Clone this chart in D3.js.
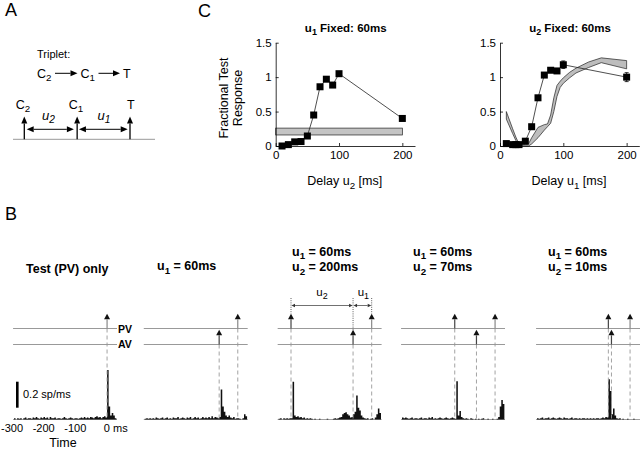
<!DOCTYPE html>
<html>
<head>
<meta charset="utf-8">
<script src="https://cdn.jsdelivr.net/npm/d3@7"></script>
<style>
body { margin: 0; background: #fff; }
text { font-family: "Liberation Sans", Arial, sans-serif; fill: #000; }
</style>
</head>
<body>
<div id="chart"></div>
<script>
// ----------------------------------------------------------------
// Data
// ----------------------------------------------------------------

// panel C, left: u1 fixed at 60ms, u2 varied
const delayU2 = [10, 20, 30, 40, 50, 60, 70, 80, 90, 100, 200];
const respFixedU1 = [0.0, 0.02, 0.06, 0.065, 0.145, 0.45, 0.86, 0.97, 0.885, 1.05, 0.40];
const testOnlyBand = [0.16, 0.26];

// panel C, right: u2 fixed at 60ms, u1 varied
const delayU1 = [10, 20, 25, 30, 40, 50, 60, 70, 80, 90, 100, 200];
const respFixedU2 = [0.035, 0.02, 0.02, 0.02, 0.07, 0.28, 0.70, 1.03, 1.10, 1.09, 1.18, 1.00];
const errFixedU2 = [0, 0, 0, 0, 0, 0, 0, 0, 0, 0, 0.055, 0.065];

// pair (C1 -> T) band on the right plot
const bandU1 = [10, 20, 25, 30, 40, 45, 50, 60, 70, 75, 80, 85, 90, 95, 100, 110, 120, 140, 160, 200];
const bandLo = [0.39, 0.18, 0.08, 0.01, 0.0, 0.0, 0.03, 0.12, 0.23, 0.28, 0.33, 0.50, 0.72, 0.85, 0.91, 0.99, 1.06, 1.14, 1.21, 1.12];
const bandHi = [0.50, 0.25, 0.13, 0.03, 0.02, 0.03, 0.12, 0.27, 0.31, 0.32, 0.45, 0.70, 0.88, 0.94, 0.99, 1.07, 1.13, 1.22, 1.28, 1.24];

// panel B: trial conditions
const trialTitles = ["Test (PV) only", "u_1 = 60ms", "u_1 = 60ms|u_2 = 200ms", "u_1 = 60ms|u_2 = 70ms", "u_1 = 60ms|u_2 = 10ms"];
const pvTimes = [[0], [0], [-260, 0], [-130, 0], [-70, 0]];
const avTimes = [[], [-60], [-60], [-60], [-60]];
const timeTicks = [-300, -200, -100, 0];

// PSTHs, 5 ms bins starting at -300 ms (sp/ms)
const psthTestOnly = [0.01, 0, 0.01, 0.005, 0.01, 0, 0.01, 0.015, 0.005, 0.01,
  0.01, 0.005, 0.015, 0.01, 0.02, 0.01, 0.005, 0.015, 0.01, 0.02,
  0.01, 0.015, 0.005, 0.02, 0.01, 0.01, 0.015, 0.005, 0.01, 0.01,
  0.005, 0.01, 0.02, 0.01, 0.005, 0.01, 0.015, 0.01, 0.005, 0.01,
  0.01, 0.005, 0.01, 0.015, 0.01, 0.02, 0.01, 0.015, 0.01, 0.02,
  0.015, 0.01, 0.02, 0.025, 0.015, 0.02, 0.01, 0.02, 0.025, 0.015,
  0.38, 0.1, 0.03, 0.05, 0.03, 0.01];
const psthU1 = [0.005, 0.01, 0.005, 0.01, 0.005, 0.01, 0.005, 0.015, 0.01, 0.005,
  0.01, 0.015, 0.005, 0.01, 0.015, 0.005, 0.01, 0.005, 0.015, 0.01,
  0.01, 0.02, 0.005, 0.01, 0.015, 0.01, 0.005, 0.015, 0.01, 0.02,
  0.005, 0.01, 0.02, 0.01, 0.015, 0.005, 0.01, 0.02, 0.01, 0.015,
  0.01, 0.02, 0.01, 0.025, 0.01, 0.02, 0.015, 0.01, 0.02, 0.23,
  0.1, 0.06, 0.03, 0.02, 0.03, 0.015, 0.01, 0.02, 0.005, 0.01,
  0.01, 0.005, 0, 0.01, 0.04, 0.025];
const psthU2_200 = [0.005, 0.01, 0, 0.01, 0.005, 0.01, 0.005, 0.01, 0.01, 0.29,
  0.03, 0.02, 0.025, 0.015, 0.02, 0.01, 0.015, 0.005, 0.01, 0.005,
  0.01, 0.005, 0, 0.005, 0, 0, 0.005, 0, 0, 0,
  0, 0.005, 0, 0, 0, 0.005, 0.01, 0.005, 0.01, 0.015,
  0.02, 0.04, 0.05, 0.055, 0.04, 0.03, 0.015, 0.02, 0.04, 0.06,
  0.185, 0.09, 0.07, 0.03, 0.015, 0.01, 0.005, 0.01, 0, 0.005,
  0.01, 0, 0.015, 0.04, 0.085, 0.05];
const psthU2_70 = [0.015, 0.01, 0.015, 0.01, 0.005, 0.01, 0.015, 0.005, 0.01, 0.01,
  0.005, 0.01, 0.015, 0.005, 0.01, 0.01, 0.005, 0.015, 0.01, 0.02,
  0.005, 0.01, 0.005, 0.01, 0.015, 0.01, 0.005, 0.01, 0.015, 0.01,
  0.005, 0.01, 0.015, 0.01, 0.005, 0.295, 0.03, 0.065, 0.02, 0.01,
  0.005, 0.01, 0.005, 0, 0.01, 0.005, 0, 0.005, 0, 0.005,
  0, 0.005, 0.01, 0, 0, 0.005, 0, 0, 0.005, 0,
  0, 0.005, 0.02, 0.1, 0.15, 0.12];
const psthU2_10 = [0.01, 0.005, 0.01, 0.015, 0.005, 0.01, 0.01, 0.015, 0.005, 0.01,
  0.015, 0.01, 0.005, 0.01, 0.015, 0.01, 0.005, 0.015, 0.01, 0.01,
  0.005, 0.01, 0.015, 0.005, 0.01, 0.01, 0.005, 0.01, 0.005, 0.01,
  0.01, 0.005, 0.01, 0.005, 0.01, 0.005, 0.01, 0.005, 0.01, 0.01,
  0.005, 0.01, 0.015, 0.01, 0.02, 0.015, 0.31, 0.22, 0.04, 0.085,
  0.03, 0.01, 0.005, 0.01, 0, 0.005, 0, 0, 0.005, 0,
  0, 0, 0.005, 0, 0, 0];
const psths = [psthTestOnly, psthU1, psthU2_200, psthU2_70, psthU2_10];
const binStart = -300, binWidth = 5;

// ----------------------------------------------------------------
// Helpers
// ----------------------------------------------------------------

const svg = d3.select("#chart").append("svg")
  .attr("width", 640)
  .attr("height", 450);

// text with "_x" subscripts
function richText(g, x, y, str, size, weight) {
  const t = g.append("text")
    .attr("x", x).attr("y", y)
    .style("font-size", size + "px")
    .style("font-weight", weight || "normal");
  let shifted = false;
  str.split(/(_\w)/).filter(s => s.length).forEach(p => {
    if (p[0] === "_") {
      t.append("tspan").attr("dy", size * 0.3).style("font-size", (size * 0.78) + "px").text(p[1]);
      shifted = true;
    } else {
      t.append("tspan").attr("dy", shifted ? -size * 0.3 : 0).text(p);
      shifted = false;
    }
  });
  return t;
}

function arrowHead(g, x2, y2, ang, len, wid, col) {
  const bx = x2 - len * Math.cos(ang), by = y2 - len * Math.sin(ang);
  const px = -Math.sin(ang) * wid / 2, py = Math.cos(ang) * wid / 2;
  g.append("path")
    .attr("d", `M${x2},${y2}L${bx + px},${by + py}L${bx - px},${by - py}Z`)
    .attr("fill", col);
  return [bx, by];
}

function arrow(g, x1, y1, x2, y2, o) {
  o = Object.assign({ len: 5, wid: 5, stem: "#000", head: "#000", sw: 1 }, o);
  const a = Math.atan2(y2 - y1, x2 - x1);
  const b = arrowHead(g, x2, y2, a, o.len, o.wid, o.head);
  g.append("line")
    .attr("x1", x1).attr("y1", y1).attr("x2", b[0]).attr("y2", b[1])
    .attr("stroke", o.stem).attr("stroke-width", o.sw);
}

function dblArrow(g, xa, xb, y, o) {
  o = Object.assign({ len: 5, wid: 5, col: "#000", sw: 1 }, o);
  const a = arrowHead(g, xa, y, Math.PI, o.len, o.wid, o.col);
  const b = arrowHead(g, xb, y, 0, o.len, o.wid, o.col);
  g.append("line").attr("x1", a[0]).attr("x2", b[0]).attr("y1", y).attr("y2", y)
    .attr("stroke", o.col).attr("stroke-width", o.sw);
}

// ----------------------------------------------------------------
// Panel A: schematic
// ----------------------------------------------------------------

function drawPanelA() {
  const g = svg.append("g");
  g.append("text").attr("x", 5).attr("y", 16).style("font-size", "18px").text("A");
  g.append("text").attr("x", 37).attr("y", 57.5).style("font-size", "11px").text("Triplet:");

  // C2 -> C1 -> T
  richText(g, 37, 77.5, "C_2", 12.5);
  arrow(g, 55, 73.3, 77.5, 73.3, { len: 7, wid: 6 });
  richText(g, 80.5, 77.5, "C_1", 12.5);
  arrow(g, 98.5, 73.3, 120, 73.3, { len: 7, wid: 6 });
  g.append("text").attr("x", 123).attr("y", 77.5).style("font-size", "12.5px").text("T");

  // time line
  const ev = d3.scalePoint().domain(["C_2", "C_1", "T"]).range([24.3, 130]);
  g.append("line").attr("x1", 13).attr("x2", 155).attr("y1", 139.3).attr("y2", 139.3)
    .attr("stroke", "#999").attr("stroke-width", 1);
  ev.domain().forEach(k => {
    arrow(g, ev(k), 139.3, ev(k), 116.5, { len: 7, wid: 6, sw: 1.3 });
    richText(g, k === "T" ? ev(k) - 3 : ev(k) - 8.5, 108.5, k, 12.5);
  });
  dblArrow(g, ev("C_2") + 2.4, ev("C_1") - 3.3, 129.3, { len: 7, wid: 6 });
  dblArrow(g, ev("C_1") + 1.8, ev("T") - 2.3, 129.3, { len: 7, wid: 6 });
  richText(g, 42, 119.5, "u_2", 13).style("font-style", "italic");
  richText(g, 97.5, 119.5, "u_1", 13).style("font-style", "italic");
}

// ----------------------------------------------------------------
// Panel C: fractional test response
// ----------------------------------------------------------------

function drawCurve(x0, title, xlabel, delays, resp, err, drawBand) {
  const g = svg.append("g");
  const x = d3.scaleLinear().domain([0, 220]).range([x0, x0 + 139.3]);
  const y = d3.scaleLinear().domain([0, 1.5]).range([146, 42.7]);

  drawBand(g, x, y);

  const xAxis = g.append("g").attr("transform", "translate(0,146)")
    .call(d3.axisBottom(x).tickValues([0, 100, 200]).tickSizeInner(-3).tickSizeOuter(0).tickPadding(5));
  const yAxis = g.append("g").attr("transform", `translate(${x0},0)`)
    .call(d3.axisLeft(y).tickValues([0, 0.5, 1, 1.5]).tickFormat(d3.format("")).tickSizeInner(-3).tickSizeOuter(0).tickPadding(4));
  [xAxis, yAxis].forEach(a => {
    a.selectAll("text").style("font-size", "11.5px").style("font-family", "Liberation Sans, Arial, sans-serif").attr("fill", "#000");
    a.selectAll("path, line").attr("stroke", "#000").attr("stroke-width", 0.8);
  });

  const pts = delays.map((d, i) => [d, resp[i], err[i]]);
  g.append("path").datum(pts)
    .attr("d", d3.line().x(d => x(d[0])).y(d => y(d[1])))
    .attr("fill", "none").attr("stroke", "#222").attr("stroke-width", 0.8);
  pts.filter(d => d[2] > 0).forEach(d => {
    g.append("line").attr("x1", x(d[0])).attr("x2", x(d[0]))
      .attr("y1", y(d[1] - d[2])).attr("y2", y(d[1] + d[2]))
      .attr("stroke", "#000").attr("stroke-width", 0.8);
    [d[1] - d[2], d[1] + d[2]].forEach(v => {
      g.append("line").attr("x1", x(d[0]) - 2).attr("x2", x(d[0]) + 2)
        .attr("y1", y(v)).attr("y2", y(v)).attr("stroke", "#000").attr("stroke-width", 0.8);
    });
  });
  g.selectAll("rect.mk").data(pts).enter().append("rect")
    .attr("class", "mk")
    .attr("x", d => x(d[0]) - 3.5).attr("y", d => y(d[1]) - 3.5)
    .attr("width", 7).attr("height", 7).attr("fill", "#000");

  richText(g, x0 + 70, 32, title, 11.5, "bold").attr("text-anchor", "middle");
  richText(g, x0 + 69, 185, xlabel, 12.5).attr("text-anchor", "middle");
}

function drawPanelC() {
  svg.append("text").attr("x", 198).attr("y", 17).style("font-size", "18px").text("C");

  drawCurve(275.7, "u_1  Fixed: 60ms", "Delay u_2  [ms]", delayU2, respFixedU1, delayU2.map(() => 0),
    function (g, x, y) {
      g.append("rect")
        .attr("x", x(0)).attr("width", x(200) - x(0))
        .attr("y", y(testOnlyBand[1])).attr("height", y(testOnlyBand[0]) - y(testOnlyBand[1]))
        .attr("fill", "#c4c4c4").attr("stroke", "#222").attr("stroke-width", 0.7);
    });

  drawCurve(500, "u_2  Fixed: 60ms", "Delay u_1  [ms]", delayU1, respFixedU2, errFixedU2,
    function (g, x, y) {
      const band = bandU1.map((u, i) => [u, bandLo[i], bandHi[i]]);
      g.append("path").datum(band)
        .attr("d", d3.area().x(d => x(d[0])).y0(d => y(d[1])).y1(d => y(d[2])))
        .attr("fill", "#bdbdbd").attr("stroke", "#222").attr("stroke-width", 0.7);
    });

  svg.append("text").attr("transform", "translate(227.5,98) rotate(-90)")
    .attr("text-anchor", "middle").style("font-size", "12.5px").text("Fractional Test");
  svg.append("text").attr("transform", "translate(241.5,98) rotate(-90)")
    .attr("text-anchor", "middle").style("font-size", "12.5px").text("Response");
}

// ----------------------------------------------------------------
// Panel B: stimulus timing and PSTHs
// ----------------------------------------------------------------

const colLeft = [14, 144.7, 278.6, 402, 537];
const titleX = [26, 157, 292, 413, 548];
const pvY = 328.5, avY = 344.5, histBase = 419.5;
const tScale = d3.scaleLinear().domain([-300, 32]).range([0, 103]);
const rScale = d3.scaleLinear().domain([0, 0.2]).range([0, 26]);

function drawTrial(i) {
  const g = svg.append("g").attr("transform", `translate(${colLeft[i]},0)`);

  // title
  const lines = trialTitles[i].split("|");
  if (lines.length === 1) {
    richText(svg, titleX[i], i === 0 ? 273 : 270, lines[0], 12.5, "bold");
  } else {
    lines.forEach((l, k) => richText(svg, titleX[i], 255.5 + k * 15.5, l, 12.5, "bold"));
  }

  // channel lines
  [pvY, avY].forEach(yy => {
    g.append("line").attr("x1", tScale(-303)).attr("x2", tScale(32))
      .attr("y1", yy).attr("y2", yy).attr("stroke", "#999").attr("stroke-width", 1);
  });

  // PSTH
  const bins = psths[i].map((v, k) => [binStart + k * binWidth, v]);
  bins.push([binStart + bins.length * binWidth, 0]);
  g.append("line").attr("x1", tScale(-303)).attr("x2", tScale(32))
    .attr("y1", histBase).attr("y2", histBase).attr("stroke", "#888").attr("stroke-width", 0.8);
  g.append("path").datum(bins)
    .attr("d", d3.area().curve(d3.curveStepAfter)
      .x(d => tScale(d[0])).y0(histBase).y1(d => histBase - rScale(d[1])))
    .attr("fill", "#111");

  // dashed event markers
  pvTimes[i].forEach(t => {
    g.append("line").attr("x1", tScale(t)).attr("x2", tScale(t))
      .attr("y1", pvY).attr("y2", histBase - 1)
      .attr("stroke", "#999").attr("stroke-width", 0.9).attr("stroke-dasharray", "4,3");
  });
  avTimes[i].forEach(t => {
    g.append("line").attr("x1", tScale(t)).attr("x2", tScale(t))
      .attr("y1", avY).attr("y2", histBase - 1)
      .attr("stroke", "#999").attr("stroke-width", 0.9).attr("stroke-dasharray", "4,3");
  });

  // stimulus arrows
  pvTimes[i].forEach(t => {
    arrow(g, tScale(t), pvY, tScale(t), 313.8, { len: 5.5, wid: 6, stem: t === 0 ? "#888" : "#444", head: "#111", sw: 1.2 });
  });
  avTimes[i].forEach(t => {
    arrow(g, tScale(t), avY, tScale(t), 329.8, { len: 5.5, wid: 6, stem: "#444", head: "#111", sw: 1.2 });
  });

  // interval annotation on the u2 = 200ms trial
  if (i === 2) {
    const ev = pvTimes[i].concat(avTimes[i]).sort(d3.ascending);
    const tops = [313.8, 329.8, 313.8];
    ev.forEach((t, k) => {
      g.append("line").attr("x1", tScale(t)).attr("x2", tScale(t))
        .attr("y1", 298).attr("y2", tops[k])
        .attr("stroke", "#333").attr("stroke-width", 0.8).attr("stroke-dasharray", "1,1.2");
    });
    dblArrow(g, tScale(ev[0]) + 0.5, tScale(ev[1]) - 0.5, 305.5, { len: 3.5, wid: 3.5, col: "#333", sw: 0.7 });
    dblArrow(g, tScale(ev[1]) + 0.5, tScale(ev[2]) - 0.5, 305.5, { len: 3.5, wid: 3.5, col: "#333", sw: 0.7 });
    richText(g, (tScale(ev[0]) + tScale(ev[1])) / 2, 296, "u_2", 11.5).attr("text-anchor", "middle").attr("fill", "#333");
    richText(g, (tScale(ev[1]) + tScale(ev[2])) / 2 + 1, 296, "u_1", 11.5).attr("text-anchor", "middle").attr("fill", "#333");
  }

  if (i === 0) {
    g.append("text").attr("x", tScale(32) + 1).attr("y", 332.5).style("font-size", "10.5px").style("font-weight", "bold").text("PV");
    g.append("text").attr("x", tScale(32) + 1).attr("y", 348).style("font-size", "10.5px").style("font-weight", "bold").text("AV");
  }
}

function drawPanelB() {
  svg.append("text").attr("x", 5).attr("y", 220).style("font-size", "18px").text("B");
  d3.range(5).forEach(drawTrial);

  // scale bar
  svg.append("rect").attr("x", 16).attr("width", 2.6)
    .attr("y", 407.7 - rScale(0.2)).attr("height", rScale(0.2)).attr("fill", "#000");
  svg.append("text").attr("x", 23).attr("y", 397.5).style("font-size", "11px").text("0.2 sp/ms");

  // time labels
  const lab = d3.scaleLinear().domain([-300, 0]).range([12, 107]);
  timeTicks.forEach(t => {
    svg.append("text").attr("x", t === 0 ? lab(t) - 3.2 : lab(t)).attr("y", 431.5)
      .attr("text-anchor", t === 0 ? "start" : "middle")
      .style("font-size", "11px").text(t === 0 ? "0 ms" : t);
  });
  svg.append("text").attr("x", 63).attr("y", 446.5).attr("text-anchor", "middle")
    .style("font-size", "12.5px").text("Time");
}

// ----------------------------------------------------------------
// On execution
// ----------------------------------------------------------------

drawPanelA();
drawPanelC();
drawPanelB();
</script>
</body>
</html>
